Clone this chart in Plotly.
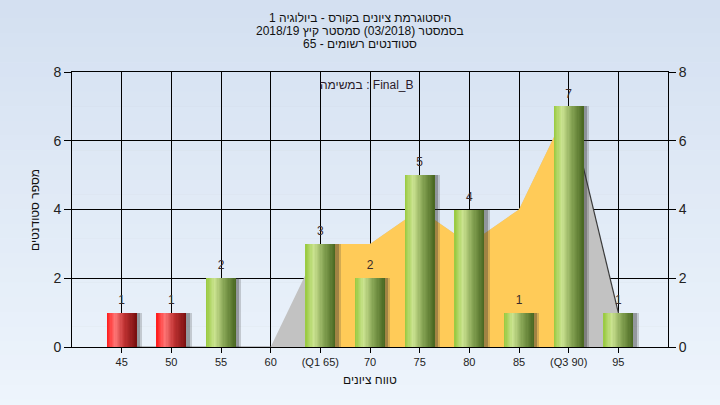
import plotly.graph_objects as go

# ---- data ----
categories = ["45", "50", "55", "60", "(Q1 65)", "70", "75", "80", "85", "(Q3 90)", "95"]
counts = [1, 1, 2, 0, 3, 2, 5, 4, 1, 7, 1]
fail_flags = [True, True, False, False, False, False, False, False, False, False, False]
area_values = [0, 0, 0, 0, 3, 3, 4, 3, 4, 7, 1]
q1_index = 4
q3_index = 9
title_lines = ["היסטוגרמת ציונים בקורס - ביולוגיה 1",
               "בסמסטר (03/2018) סמסטר קיץ 2018/19",
               "סטודנטים רשומים - 65"]
task_label = "במשימה : Final_B"
x_title = "טווח ציונים"
y_title = "מספר סטודנטים"

FONT = "Liberation Sans, Arial, sans-serif"
xs = list(range(len(categories)))

fig = go.Figure()

# background gradient (paper)
top = (212, 224, 241)
bot = (239, 246, 253)
nb = 30
for i in range(nb):
    t = i / (nb - 1)
    c = tuple(int(top[k] + (bot[k] - top[k]) * t) for k in range(3))
    fig.add_shape(type="rect", xref="paper", yref="paper",
                  x0=-0.2, x1=1.2, y0=1.3 - (i + 1) * (1.6 / nb), y1=1.3 - i * (1.6 / nb) + 0.002,
                  fillcolor="rgb(%d,%d,%d)" % c, line_width=0, layer="below")

# ---- main subplot (x, y): area series above gridlines ----
fig.add_trace(go.Scatter(x=xs, y=area_values, mode="lines", fill="tozeroy",
                         line=dict(color="rgba(0,0,0,0)", width=0),
                         fillcolor="#c2c2c2", hoverinfo="skip", showlegend=False))
fig.add_trace(go.Scatter(x=xs[q1_index:q3_index + 1], y=area_values[q1_index:q3_index + 1],
                         mode="lines", fill="tozeroy",
                         line=dict(color="rgba(0,0,0,0)", width=0),
                         fillcolor="#ffcb58", hoverinfo="skip", showlegend=False))
fig.add_trace(go.Scatter(x=xs[q3_index:], y=area_values[q3_index:], mode="lines",
                         line=dict(color="#3a3a3a", width=1.2),
                         hoverinfo="skip", showlegend=False))
fig.add_trace(go.Scatter(x=xs[:q1_index], y=area_values[:q1_index], mode="lines",
                         line=dict(color="#8a8a8a", width=1),
                         hoverinfo="skip", showlegend=False))

# ---- overlay subplot (x, y2): bars above the areas ----
W = 0.6
fig.add_trace(go.Bar(x=xs, y=counts, width=W, offset=-W / 2 + 0.11, yaxis="y2",
                     marker=dict(color="rgba(60,60,60,0.22)", line_width=0),
                     hoverinfo="skip", showlegend=False))
fig.add_trace(go.Bar(x=xs, y=counts, width=W, offset=-W / 2 + 0.07, yaxis="y2",
                     marker=dict(color="rgba(40,40,40,0.30)", line_width=0),
                     hoverinfo="skip", showlegend=False))

green_stops = [(0.0, (152, 202, 62)), (0.28, (204, 228, 146)), (0.6, (135, 165, 85)), (1.0, (72, 102, 32))]
red_stops = [(0.0, (255, 25, 25)), (0.28, (255, 118, 118)), (0.6, (190, 50, 50)), (1.0, (120, 15, 15))]


def grad(stops, t):
    for (t0, c0), (t1, c1) in zip(stops[:-1], stops[1:]):
        if t0 <= t <= t1:
            f = (t - t0) / (t1 - t0)
            return "rgb(%d,%d,%d)" % tuple(int(c0[k] + (c1[k] - c0[k]) * f) for k in range(3))
    return "rgb(%d,%d,%d)" % stops[-1][1]


N = 24
sw = W / N
for k in range(N):
    t = (k + 0.5) / N
    cols = [grad(red_stops if f else green_stops, t) for f in fail_flags]
    wk = W - k * sw
    fig.add_trace(go.Bar(x=xs, y=counts, width=wk, offset=-W / 2 + k * sw, yaxis="y2",
                         marker=dict(color=cols, line_width=0),
                         hoverinfo="skip", showlegend=False))

# ---- value labels on a slightly shifted overlay axis (y3) ----
fig.add_trace(go.Scatter(x=[x for x, c in zip(xs, counts) if c > 0],
                         y=[c for c in counts if c > 0],
                         text=[str(c) for c in counts if c > 0],
                         mode="text", textposition="top center", yaxis="y3",
                         textfont=dict(family=FONT, size=12, color="#3a2a2a"),
                         hoverinfo="skip", showlegend=False))

fig.update_layout(
    width=720, height=405,
    margin=dict(l=72, r=52, t=72, b=58),
    paper_bgcolor="#e4eefa",
    plot_bgcolor="#b4b4b4",
    barmode="overlay",
    bargap=0,
    hovermode=False,
    font=dict(family=FONT, color="#222"),
    xaxis=dict(range=[-1, 11], tickmode="array", tickvals=xs, ticktext=categories,
               showgrid=True, gridcolor="#000", gridwidth=1,
               showline=True, linecolor="#000", linewidth=1, mirror=True,
               ticks="outside", ticklen=5, tickcolor="#000",
               tickfont=dict(size=11, color="#222"), zeroline=False),
    yaxis=dict(range=[0, 8], dtick=2, showgrid=True, gridcolor="#000", gridwidth=1,
               showline=True, linecolor="#000", linewidth=1,
               ticks="outside", ticklen=7, tickcolor="#000",
               tickfont=dict(size=14, color="#222"), zeroline=False),
    yaxis2=dict(range=[0, 8], dtick=2, overlaying="y", side="right", showgrid=False,
                showline=True, linecolor="#000", linewidth=1,
                ticks="outside", ticklen=7, tickcolor="#000",
                tickfont=dict(size=14, color="#222"), zeroline=False),
    yaxis3=dict(range=[-0.17, 7.83], overlaying="y", visible=False),
)

ann = []
for i, line in enumerate(title_lines):
    py = 18 + 13 * i
    ann.append(dict(text=line, xref="paper", yref="paper", x=(360 - 72) / 596, y=(347 - py) / 275,
                    xanchor="center", yanchor="middle", showarrow=False,
                    font=dict(family=FONT, size=12, color="#111")))
ann.append(dict(text=task_label, xref="paper", yref="paper", x=(367 - 72) / 596, y=(347 - 85) / 275,
                xanchor="center", yanchor="middle", showarrow=False,
                font=dict(family=FONT, size=12, color="#2a1a2a")))
ann.append(dict(text=x_title, xref="paper", yref="paper", x=(370 - 72) / 596, y=(347 - 380) / 275,
                xanchor="center", yanchor="middle", showarrow=False,
                font=dict(family=FONT, size=12, color="#111")))
ann.append(dict(text=y_title, xref="paper", yref="paper", x=(35 - 72) / 596, y=(347 - 210) / 275,
                xanchor="center", yanchor="middle", showarrow=False, textangle=-90,
                font=dict(family=FONT, size=12, color="#111")))
fig.update_layout(annotations=ann)

fig.write_html("out.html",
               config={"displayModeBar": False, "staticPlot": True},
               post_script="document.body.style.margin='0';document.body.style.padding='0';"
                           "document.documentElement.style.overflow='hidden';")
